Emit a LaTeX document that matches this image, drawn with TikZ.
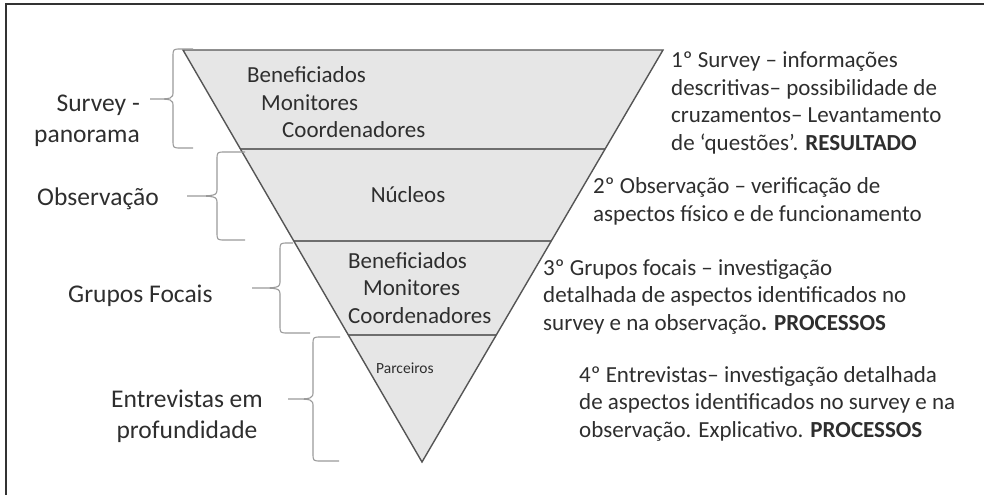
\documentclass[tikz,border=0pt]{standalone}
\usepackage{fontspec}
\setmainfont{Carlito}
\usepackage{xcolor}
\usetikzlibrary{positioning, calc}

\definecolor{fillgray}{HTML}{E6E6E6}
\definecolor{edgegray}{HTML}{555555}
\definecolor{linegray}{HTML}{6E6E6E}
\definecolor{bracegray}{HTML}{9A9A9A}
\definecolor{txtgray}{HTML}{2E2E2E}
\definecolor{framegray}{HTML}{333333}

\begin{document}
\begin{tikzpicture}[x=1pt,y=-1pt,
    every node/.style={inner sep=0pt, text=txtgray},
    lbl/.style={font=\fontsize{25.5}{31}\selectfont},
    band/.style={font=\fontsize{23}{27.5}\selectfont, anchor=base west},
    note/.style={font=\fontsize{23}{27.5}\selectfont, anchor=base west, align=left},
    edge/.style={draw=edgegray, line width=1.4pt, line join=miter},
    bandline/.style={draw=linegray, line width=1.1pt},
    brc/.style={draw=bracegray, line width=1.1pt}]
\useasboundingbox (0,0) rectangle (984,495);

% frame
\draw[framegray, line width=2pt] (984,4) -- (6,4) -- (6,495);

% inverted triangle
\coordinate (tl) at (183,50);
\coordinate (tr) at (663,50);
\coordinate (apex) at (422,462);
\fill[fillgray] (tl) -- (tr) -- (apex) -- cycle;
\foreach \t in {0.2403,0.4636,0.6917} {
    \draw[bandline] ($(tl)!\t!(apex)$) -- ($(tr)!\t!(apex)$);
}
\draw[edge] (tl) -- (tr) -- (apex) -- cycle;

% braces
\foreach \yt/\yb/\xs/\xt/\yc/\xa/\xb in {49/148/173/150/99/193/193,
    152/240/217/187/196/245/245, 243/333/280/252/288/293/310,
    337/461/313/288/399/340/339} {
    \draw[brc] (\xa,\yt) -- ({\xs+8},\yt) .. controls (\xs,\yt) .. (\xs,{\yt+8})
        -- (\xs,{\yc-8}) .. controls (\xs,\yc) .. (\xt,\yc)
        .. controls (\xs,\yc) .. (\xs,{\yc+8})
        -- (\xs,{\yb-8}) .. controls (\xs,\yb) .. ({\xs+8},\yb) -- (\xb,\yb);
}

% texts in the bands
\node[band] (benA) at (247,82) {Beneficiados};
\node[band] (monA) at (261,110) {Monitores};
\node[band] (cooA) at (282,137) {Coordenadores};
\node[band, anchor=base] (nuc) at (408,202) {Núcleos};
\node[band] (benB) at (348,268) {Beneficiados};
\node[band] (monB) at (363,295) {Monitores};
\node[band] (cooB) at (348,323) {Coordenadores};
\node[band, font=\fontsize{15.5}{18}\selectfont] (parc) at (376,373) {Parceiros};

% left labels (base = last line)
\node[lbl, align=right, anchor=base east] (svy) at (140,142) {Survey -\\panorama};
\node[lbl, anchor=base west] (obs) at (37,205) {Observação};
\node[lbl, anchor=base west] (grf) at (68,302) {Grupos Focais};
\node[lbl, align=center, anchor=base] (ent) at (187,438) {Entrevistas em\\profundidade};

% right notes (base = last line)
\node[note] (nt1) at (671,150) {1º Survey – informações\\descritivas– possibilidade de\\cruzamentos– Levantamento\\de ‘questões’. \textbf{RESULTADO}};
\node[note] (nt2) at (593,221) {2º Observação – verificação de\\aspectos físico e de funcionamento};
\node[note] (nt3) at (543,330) {3º Grupos focais – investigação\\detalhada de aspectos identificados no\\survey e na observação\textbf{. PROCESSOS}};
\node[note] (nt4) at (579,437) {4º Entrevistas– investigação detalhada\\de aspectos identificados no survey e na\\observação. Explicativo. \textbf{PROCESSOS}};
\end{tikzpicture}
\end{document}
